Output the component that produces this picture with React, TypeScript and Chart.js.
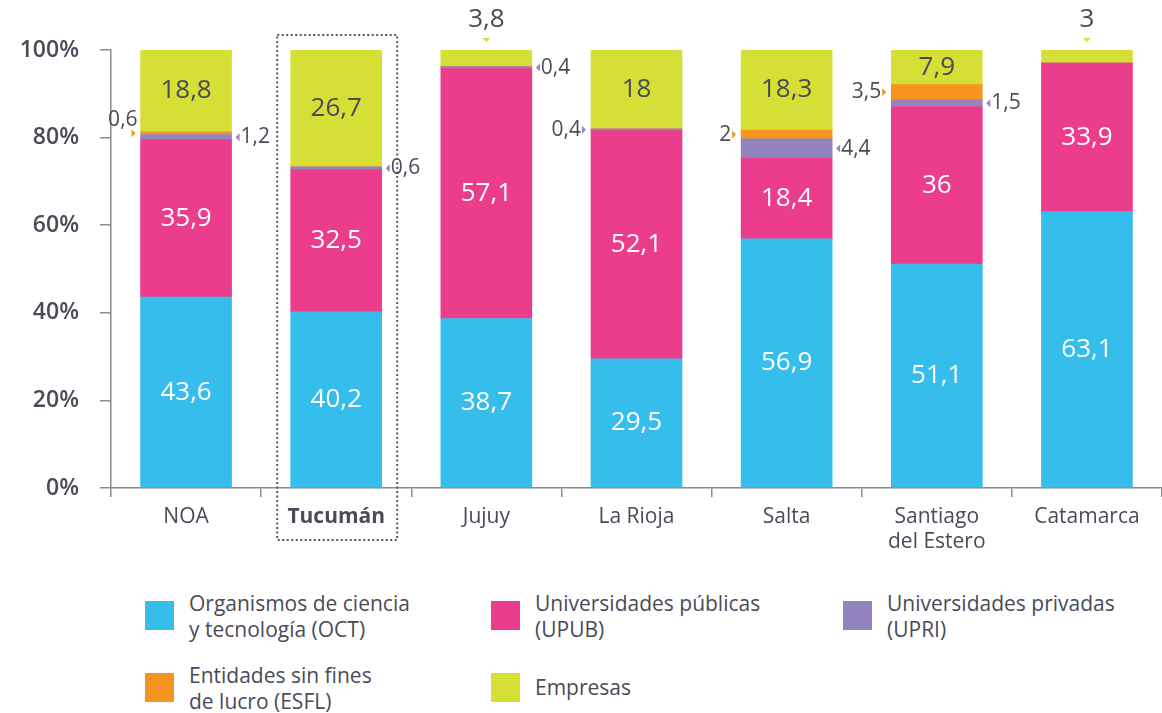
import React, { useEffect, useRef } from "react";
import { Chart, registerables } from "chart.js";
Chart.register(...registerables);

const categories: (string | string[])[] = ["NOA", "Tucumán", "Jujuy", "La Rioja", "Salta", ["Santiago", "del Estero"], "Catamarca"];
const octValues = [43.6, 40.2, 38.7, 29.5, 56.9, 51.1, 63.1];
const upubValues = [35.9, 32.5, 57.1, 52.1, 18.4, 36, 33.9];
const upriValues = [1.2, 0.6, 0.4, 0.4, 4.4, 1.5, 0];
const esflValues = [0.6, 0, 0, 0, 2, 3.5, 0];
const empresasValues = [18.8, 26.7, 3.8, 18, 18.3, 7.9, 3];
const seriesNames = [
  "Organismos de ciencia y tecnología (OCT)",
  "Universidades públicas (UPUB)",
  "Universidades privadas (UPRI)",
  "Entidades sin fines de lucro (ESFL)",
  "Empresas",
];
const yTickValues = [0, 20, 40, 60, 80, 100];

const COLORS = ["#35BDEC", "#EC3C8C", "#9383BF", "#F7941E", "#D6DF36"];
const TEXT = "#4a4b57";
const FONT = "'Open Sans', sans-serif";

// placement of small values drawn outside their bar: key = datasetIndex-categoryIndex
const outsidePlacement: Record<string, { side: "left" | "right" | "top"; dy?: number; dx?: number }> = {
  "3-0": { side: "left", dy: -13, dx: 7 },
  "2-0": { side: "right" },
  "2-1": { side: "right" },
  "4-2": { side: "top" },
  "2-2": { side: "right" },
  "2-3": { side: "left" },
  "3-4": { side: "left" },
  "2-4": { side: "right" },
  "3-5": { side: "left" },
  "2-5": { side: "right" },
  "4-6": { side: "top" },
};

const fmt = (v: number) => String(v).replace(".", ",");

const labelPlugin = {
  id: "valueLabels",
  afterDatasetsDraw(chart: any) {
    const ctx = chart.ctx;
    ctx.save();
    chart.data.datasets.forEach((ds: any, di: number) => {
      const meta = chart.getDatasetMeta(di);
      meta.data.forEach((el: any, i: number) => {
        const v = ds.data[i] as number;
        if (!v) return;
        const { x, y, base, width } = el.getProps(["x", "y", "base", "width"], true);
        const cy = (y + base) / 2;
        const txt = fmt(v);
        const place = outsidePlacement[`${di}-${i}`];
        const col = COLORS[di];
        if (!place) {
          ctx.font = `400 26px ${FONT}`;
          ctx.fillStyle = di < 2 ? "#ffffff" : TEXT;
          ctx.textAlign = "center";
          ctx.textBaseline = "middle";
          ctx.fillText(txt, x, cy);
          return;
        }
        const left = x - width / 2;
        const right = x + width / 2;
        const dx = place.dx || 0;
        const dy = place.dy || 0;
        ctx.fillStyle = col;
        if (place.side === "right") {
          ctx.beginPath();
          ctx.moveTo(right + 4, cy);
          ctx.lineTo(right + 8, cy - 4);
          ctx.lineTo(right + 8, cy + 4);
          ctx.closePath();
          ctx.fill();
          ctx.font = `400 21px ${FONT}`;
          ctx.fillStyle = TEXT;
          ctx.textAlign = "left";
          ctx.textBaseline = "middle";
          ctx.fillText(txt, right + 9 + dx, cy + dy);
        } else if (place.side === "left") {
          ctx.beginPath();
          ctx.moveTo(left - 5, cy);
          ctx.lineTo(left - 9, cy - 4);
          ctx.lineTo(left - 9, cy + 4);
          ctx.closePath();
          ctx.fill();
          ctx.font = `400 21px ${FONT}`;
          ctx.fillStyle = TEXT;
          ctx.textAlign = "right";
          ctx.textBaseline = "middle";
          ctx.fillText(txt, left - 10 + dx, cy + dy);
        } else {
          const top = Math.min(y, base);
          ctx.beginPath();
          ctx.moveTo(x, top - 8);
          ctx.lineTo(x - 4, top - 12);
          ctx.lineTo(x + 4, top - 12);
          ctx.closePath();
          ctx.fill();
          ctx.font = `400 26px ${FONT}`;
          ctx.fillStyle = TEXT;
          ctx.textAlign = "center";
          ctx.textBaseline = "middle";
          ctx.fillText(txt, x, top - 30);
        }
      });
    });
    // dotted highlight box around Tucumán
    const meta0 = chart.getDatasetMeta(0);
    const el = meta0.data[1];
    if (el) {
      const cx = el.x;
      ctx.setLineDash([2, 2.5]);
      ctx.lineWidth = 2;
      ctx.strokeStyle = "#555560";
      ctx.strokeRect(cx - 59, 35, 120, 505);
      ctx.setLineDash([]);
    }
    ctx.restore();
  },
};

export default function App() {
  const ref = useRef<HTMLCanvasElement>(null);
  useEffect(() => {
    if (!ref.current) return;
    const data = [octValues, upubValues, upriValues, esflValues, empresasValues];
    const chart = new Chart(ref.current, {
      type: "bar",
      data: {
        labels: categories as any,
        datasets: data.map((d, k) => ({
          label: seriesNames[k],
          data: d,
          backgroundColor: COLORS[k],
          borderWidth: 0,
          barThickness: 91,
        })),
      },
      options: {
        responsive: false,
        animation: false,
        layout: { padding: { top: 50, left: 0, right: 0, bottom: 0 } },
        plugins: { legend: { display: false }, tooltip: { enabled: false } },
        scales: {
          x: {
            stacked: true,
            offset: true,
            afterFit: (s: any) => {
              s.height = 72;
            },
            grid: { drawOnChartArea: false, offset: true, tickLength: 9, color: "#8a8a8f", lineWidth: 1.5 },
            border: { color: "#8a8a8f", width: 1.5 },
            ticks: {
              color: TEXT,
              padding: 7,
              font: (c: any) => ({ family: FONT, size: 21, lineHeight: 1.2, weight: c.index === 1 ? "bold" : "normal" }),
            },
          },
          y: {
            stacked: true,
            min: 0,
            max: 100,
            afterFit: (s: any) => {
              s.width = 111;
            },
            afterBuildTicks: (s: any) => {
              s.ticks = yTickValues.map((v) => ({ value: v }));
            },
            grid: { drawOnChartArea: false, tickLength: 11, color: "#8a8a8f", lineWidth: 1.5 },
            border: { color: "#8a8a8f", width: 1.5 },
            ticks: {
              color: TEXT,
              padding: 21,
              font: { family: FONT, size: 23, weight: 600 },
              callback: (v: any) => `${v}%`,
            },
          },
        },
      },
      plugins: [labelPlugin],
    });
    return () => chart.destroy();
  }, []);

  const legendItems = [
    { c: COLORS[0], lines: ["Organismos de ciencia", "y tecnología (OCT)"], x: 145, y: 601 },
    { c: COLORS[1], lines: ["Universidades públicas", "(UPUB)"], x: 491, y: 601 },
    { c: COLORS[2], lines: ["Universidades privadas", "(UPRI)"], x: 843, y: 601 },
    { c: COLORS[3], lines: ["Entidades sin fines", "de lucro (ESFL)"], x: 145, y: 673 },
    { c: COLORS[4], lines: ["Empresas"], x: 491, y: 673 },
  ];

  return (
    <div style={{ position: "absolute", left: 0, top: 0, width: 1162, height: 713, background: "#fff", fontFamily: FONT }}>
      <canvas ref={ref} width={1162} height={560} style={{ display: "block" }} />
      {legendItems.map((it, k) => (
        <div key={k}>
          <div style={{ position: "absolute", left: it.x, top: it.y, width: 29, height: 29, background: it.c }} />
          <div
            style={{
              position: "absolute",
              left: it.x + 44,
              top: it.lines.length > 1 ? it.y - 11 : it.y + 1,
              fontSize: 21,
              lineHeight: "26px",
              color: TEXT,
              whiteSpace: "nowrap",
            }}
          >
            {it.lines.map((l, j) => (
              <div key={j}>{l}</div>
            ))}
          </div>
        </div>
      ))}
    </div>
  );
}
